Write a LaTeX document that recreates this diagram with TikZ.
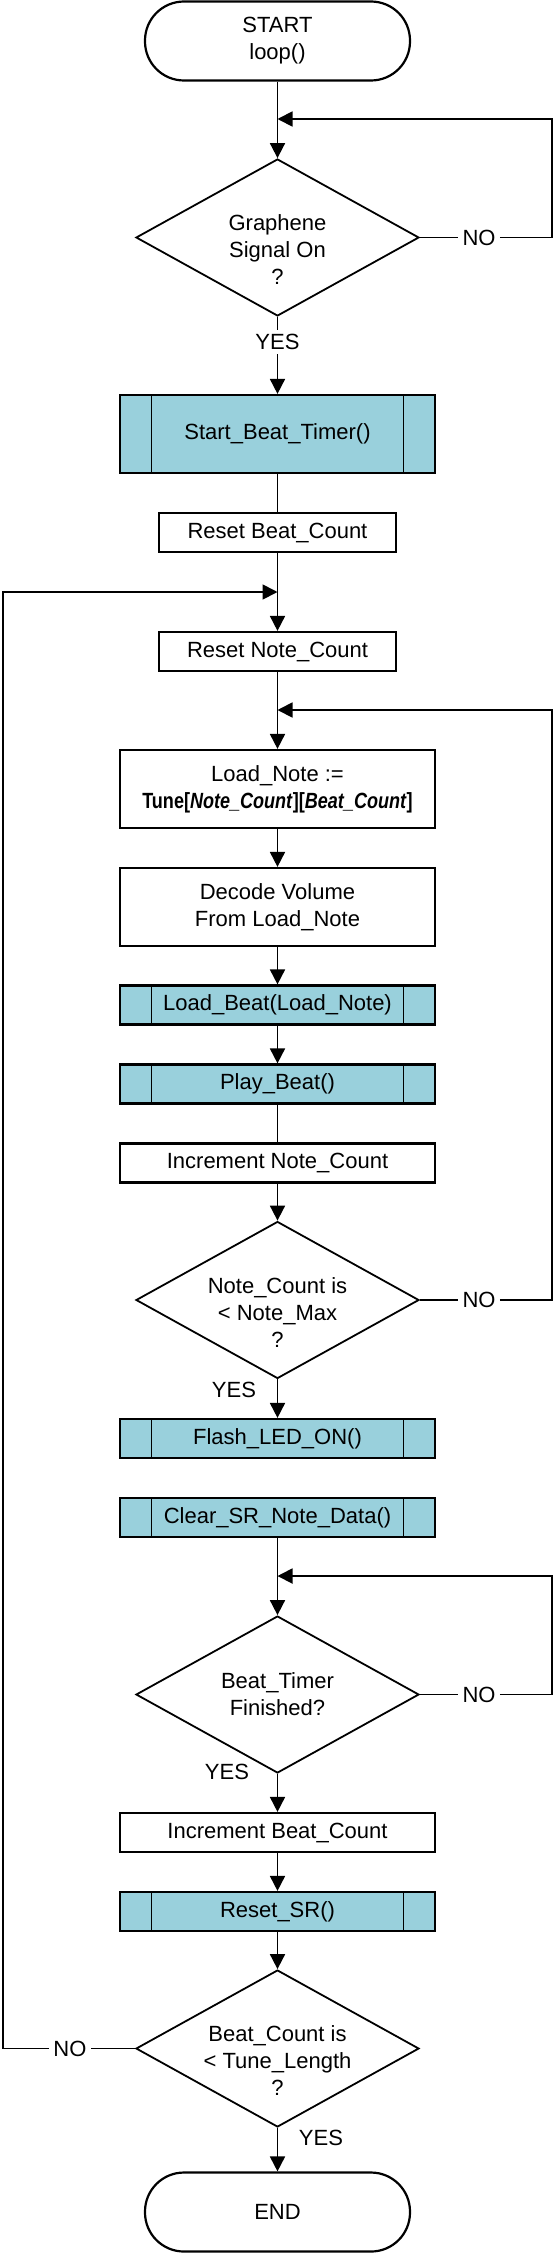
\documentclass[tikz,border=0pt]{standalone}
\usepackage{fontspec}
\setmainfont{Liberation Sans}
\newfontfamily\narrowsans[FakeStretch=0.82]{Liberation Sans}
\usetikzlibrary{arrows.meta,shapes.geometric}
\definecolor{subblue}{RGB}{153,208,220}

\begin{document}
\begin{tikzpicture}[x=1pt,y=1pt,
        font=\fontsize{11}{13.5}\selectfont,
        every node/.style={align=center},
        terminal/.style={draw,line width=1.1pt,rounded corners=19.5pt,minimum width=132.5pt,minimum height=39.5pt},
        process/.style={draw,line width=1.1pt,minimum width=157.5pt,minimum height=19.5pt,inner sep=0pt},
        short/.style={process,minimum width=118.5pt},
        tall/.style={process,minimum height=39pt},
        subproc/.style={process,fill=subblue,path picture={
            \draw[line width=0.8pt] ([xshift=15.75pt]path picture bounding box.north west) -- ([xshift=15.75pt]path picture bounding box.south west)
                ([xshift=-15.75pt]path picture bounding box.north east) -- ([xshift=-15.75pt]path picture bounding box.south east);}},
        decision/.style={draw,diamond,line width=0.9pt,minimum width=141.5pt,minimum height=78.5pt,inner sep=0pt},
        wire/.style={line width=0.9pt},
        flow/.style={wire,-{Triangle[length=7.5pt,width=7.5pt]}},
        gap/.style={fill=white,inner sep=2pt}]
    \useasboundingbox (-138.75,0) rectangle (138.75,-1126.5);
    \coordinate (rx) at (137.25,0);
    \coordinate (lx) at (-137.25,0);

    % wait for the signal
    \node[terminal] (start) at (0,-20.5) {START\\loop()};
    \coordinate (j1) at (0,-59.5);
    \node[decision,label={[yshift=-6.25pt]center:Graphene\\Signal On\\?}] (d1) at (0,-118.75) {};
    \node[gap] (no1) at (100.75,-118.75) {NO};
    \node[gap] (yes1) at (0,-171) {YES};
    \node[subproc,minimum height=39pt] (sbt) at (0,-217) {Start\_Beat\_Timer()};
    \node[short] (rbc) at (0,-266.25) {Reset Beat\_Count};

    % note loop
    \coordinate (j2) at (0,-296);
    \node[short] (rnc) at (0,-325.75) {Reset Note\_Count};
    \coordinate (j3) at (0,-355);
    \node[tall] (ln) at (0,-394.5) {Load\_Note :=\\{\narrowsans\bfseries Tune[\textit{Note\_Count}][\textit{Beat\_Count}]}};
    \node[tall] (dv) at (0,-453.5) {Decode Volume\\From Load\_Note};
    \node[subproc] (lb) at (0,-502.5) {Load\_Beat(Load\_Note)};
    \node[subproc] (pb) at (0,-542) {Play\_Beat()};
    \node[process] (inc) at (0,-581.5) {Increment Note\_Count};
    \node[decision,label={[yshift=-6.25pt]center:Note\_Count is\\< Note\_Max\\?}] (d2) at (0,-650) {};
    \node[gap] (no2) at (100.75,-650) {NO};
    \node (yes2) at (-21.75,-695) {YES};
    \node[subproc] (led) at (0,-719.25) {Flash\_LED\_ON()};
    \node[subproc] (clr) at (0,-758.75) {Clear\_SR\_Note\_Data()};

    % beat timer
    \coordinate (j4) at (0,-788);
    \node[decision,label={center:Beat\_Timer\\Finished?}] (d3) at (0,-847.25) {};
    \node[gap] (no3) at (100.75,-847.25) {NO};
    \node (yes3) at (-25.25,-886) {YES};
    \node[process] (ibc) at (0,-916.25) {Increment Beat\_Count};
    \node[subproc] (rsr) at (0,-955.75) {Reset\_SR()};
    \node[decision,label={[yshift=-6.25pt]center:Beat\_Count is\\< Tune\_Length\\?}] (d4) at (0,-1024.25) {};
    \node[gap] (no4) at (-103.75,-1024.25) {NO};
    \node (yes4) at (21.75,-1069) {YES};
    \node[terminal] (end) at (0,-1106) {END};

    \draw[flow] (start) -- (d1);
    \draw[flow] (d1) -- (no1) -- (no1 -| rx) |- (j1);
    \draw[wire] (d1) -- (yes1);
    \draw[flow] (yes1) -- (sbt);
    \draw[wire] (sbt) -- (rbc);
    \draw[flow] (rbc) -- (rnc);
    \draw[flow] (rnc) -- (ln);
    \draw[flow] (ln) -- (dv);
    \draw[flow] (dv) -- (lb);
    \draw[flow] (lb) -- (pb);
    \draw[wire] (pb) -- (inc);
    \draw[flow] (inc) -- (d2);
    \draw[flow] (d2) -- (no2) -- (no2 -| rx) |- (j3);
    \draw[flow] (d2) -- (led);
    \draw[flow] (clr) -- (d3);
    \draw[flow] (d3) -- (no3) -- (no3 -| rx) |- (j4);
    \draw[flow] (d3) -- (ibc);
    \draw[flow] (ibc) -- (rsr);
    \draw[flow] (rsr) -- (d4);
    \draw[flow] (d4) -- (no4) -- (no4 -| lx) |- (j2);
    \draw[flow] (d4) -- (end);
\end{tikzpicture}
\end{document}
